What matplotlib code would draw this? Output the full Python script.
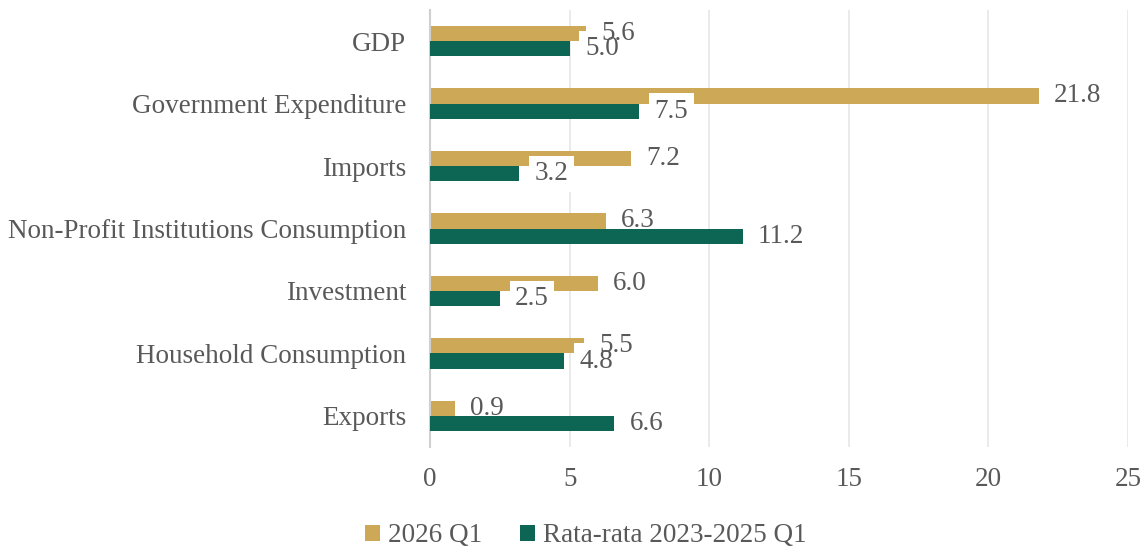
import numpy as np
import matplotlib.pyplot as plt

plt.rcParams['font.family'] = ['Liberation Serif', 'DejaVu Serif']

categories = ['GDP', 'Government Expenditure', 'Imports',
              'Non-Profit Institutions Consumption', 'Investment',
              'Household Consumption', 'Exports']
q1_2026 = [5.6, 21.8, 7.2, 6.3, 6.0, 5.5, 0.9]
avg_2023_2025 = [5.0, 7.5, 3.2, 11.2, 2.5, 4.8, 6.6]

gold = '#CDA856'
green = '#0D6654'
txt = '#595959'
fs = 19.5

fig = plt.figure(figsize=(11.48, 5.48), dpi=100)
ax = fig.add_axes([0.3746, 0.184, 0.608, 0.798])

y = np.arange(len(categories))
h = 0.245


def label(v, yy, color, z, box):
    ax.annotate(f'{v:.1f}', (v, yy), xytext=(11, 0), textcoords='offset points',
                ha='left', va='center', fontsize=fs, color=color, zorder=z,
                bbox=dict(boxstyle='square,pad=0.2', fc='white', ec='none') if box else None)


ax.barh(y - h / 2, q1_2026, height=h, color=gold, label='2026 Q1', zorder=2)

# white boxes behind every value label
for yi, v in zip(y, q1_2026):
    label(v, yi - h / 2, 'none', 2.5, True)
for yi, v in zip(y, avg_2023_2025):
    label(v, yi + h / 2, 'none', 2.5, True)

for yi, v in zip(y, q1_2026):
    label(v, yi - h / 2, txt, 3, False)

ax.barh(y + h / 2, avg_2023_2025, height=h, color=green,
        label='Rata-rata 2023-2025 Q1', zorder=4)
for yi, v in zip(y, avg_2023_2025):
    label(v, yi + h / 2, txt, 5, False)

ax.set_ylim(len(categories) - 0.5, -0.5)
ax.set_xlim(0, 25)
ax.set_xticks([0, 5, 10, 15, 20, 25])
ax.set_yticks(y)
ax.set_yticklabels(categories)
ax.tick_params(axis='both', length=0, labelsize=fs, labelcolor=txt)
ax.tick_params(axis='y', pad=17)
ax.tick_params(axis='x', pad=14)
ax.grid(axis='x', color='#E6E6E6', linewidth=1.2, zorder=0)
ax.set_axisbelow(True)
for s in ['top', 'right', 'bottom']:
    ax.spines[s].set_visible(False)
ax.spines['left'].set_color('#D0D0D0')
ax.spines['left'].set_linewidth(1.5)

fig.legend(loc='center', bbox_to_anchor=(0.51, 0.022), ncol=2, frameon=False,
           fontsize=fs, labelcolor=txt, handlelength=0.55, handleheight=0.55,
           handletextpad=0.3, columnspacing=1.4, borderaxespad=0)

fig.savefig('out.png', dpi=100)
